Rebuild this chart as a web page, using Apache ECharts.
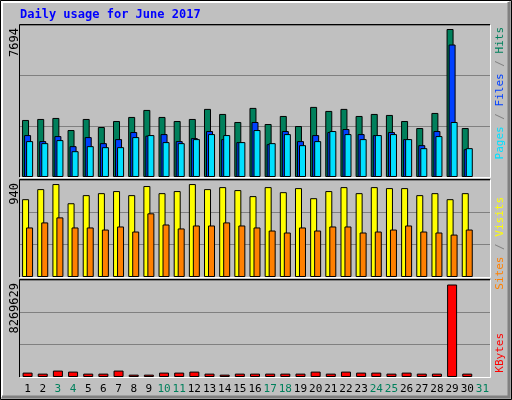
<!DOCTYPE html>
<html><head><meta charset="utf-8">
<script src="https://cdn.jsdelivr.net/npm/echarts@6/dist/echarts.min.js"></script>
<style>html,body{margin:0;padding:0;background:#c0c0c0}#c{width:512px;height:400px}</style>
</head><body><div id="c"></div>
<script>
const days = ['1','2','3','4','5','6','7','8','9','10','11','12','13','14','15','16','17','18','19','20','21','22','23','24','25','26','27','28','29','30','31'];
const weekend = ['3','4','10','11','17','18','24','25','31'];
const hits  = [2965,3017,3070,2441,3017,2598,2912,3122,3487,3122,2912,3017,3540,3278,2860,3592,2755,3173,2650,3644,3435,3540,3173,3278,3226,2912,2545,3330,7694,2545,null];
const files = [2180,1866,2127,1604,2075,1761,1970,2337,2150,2231,1866,2023,2389,1970,1814,2860,1709,2389,1866,2180,2337,2494,2231,2180,2337,1970,1656,2389,6887,1447,null];
const pages = [1866,1761,1918,1342,1604,1552,1552,2075,2180,1814,1761,1970,2231,2180,1814,2441,1761,2231,1656,1866,2389,2231,1970,2180,2231,1970,1500,2127,2860,1500,null];
const visits= [787,889,940,746,828,848,869,828,920,848,869,940,889,909,879,818,909,858,899,797,869,909,848,909,899,899,828,848,787,848,null];
const sites = [501,552,603,501,501,480,511,460,644,531,491,521,521,552,521,501,470,450,501,470,511,511,450,460,480,521,460,450,429,480,null];
const kbytes= [393000,302000,574000,483000,302000,302000,574000,211000,211000,393000,393000,483000,302000,211000,302000,302000,302000,302000,302000,483000,302000,483000,393000,393000,302000,393000,302000,302000,8269629,302000,null];
const labels = {hits:'7694', visits:'940', kbytes:'8269629'};

const F = 'DejaVu Sans Mono';
const gridL = 20, gridW = 470;
const panels = [{top:25,h:152},{top:180,h:97},{top:280,h:97}];
const ch = echarts.init(document.getElementById('c'), null, {renderer:'canvas'});
const bs = (c)=>({color:c,borderColor:'#000',borderWidth:1});
const yA = (i,max)=>({gridIndex:i,min:0,max:max,interval:max/3,axisLine:{show:false},axisTick:{show:false},axisLabel:{show:false},splitLine:{lineStyle:{color:'#808080',width:1}}});
const xA = (i,show)=>({gridIndex:i,type:'category',data:days,axisLine:{show:false},axisTick:{show:false},
  axisLabel:{show:show,fontFamily:F,fontSize:11,margin:7,interval:0,color:(v)=>weekend.includes(v)?'#00805c':'#000'}});
const g = [];
g.push({type:'rect',shape:{x:0.5,y:0.5,width:511,height:399},style:{fill:null,stroke:'#000',lineWidth:1},z:10});
g.push({type:'polyline',shape:{points:[[2,397],[2,2],[509,2]]},style:{stroke:'#fff',lineWidth:2,fill:null},z:10});
g.push({type:'polyline',shape:{points:[[2,397],[509,397],[509,2]]},style:{stroke:'#808080',lineWidth:3,fill:null},z:10});
panels.forEach(p=>{
  g.push({type:'polyline',shape:{points:[[gridL-0.5,p.top+p.h],[gridL-0.5,p.top-0.5],[gridL+gridW,p.top-0.5]]},style:{stroke:'#000',lineWidth:1,fill:null},z:10});
  g.push({type:'polyline',shape:{points:[[gridL,p.top+p.h+0.5],[gridL+gridW+0.5,p.top+p.h+0.5],[gridL+gridW+0.5,p.top]]},style:{stroke:'#fff',lineWidth:1,fill:null},z:10});
});
g.push({type:'text',x:20,y:9,style:{text:'Daily usage for June 2017',fill:'#0000ff',font:'bold 12px '+F},z:11});
[[labels.hits,28],[labels.visits,183],[labels.kbytes,283]].forEach(([t,y])=>{
  g.push({type:'text',x:15,y:y,rotation:Math.PI/2,style:{text:t,fill:'#000',font:'12px '+F,align:'right',verticalAlign:'middle'},z:11});
});
function rot(y,parts){
  const fs='11px '+F;
  g.push({type:'text',x:500,y:y,rotation:Math.PI/2,style:{text:parts.map(p=>'{'+p[1]+'|'+p[0]+'}').join(''),
    rich:{h:{fill:'#00805c',font:fs},f:{fill:'#0040ff',font:fs},p:{fill:'#00e0ff',font:fs},
          s:{fill:'#ff8000',font:fs},v:{fill:'#ffff00',font:fs},k:{fill:'#ff0000',font:fs},g:{fill:'#808080',font:fs}},
    align:'right',verticalAlign:'middle'},z:11});
}
rot(27,[['Pages','p'],[' / ','g'],['Files','f'],[' / ','g'],['Hits','h']]);
rot(197,[['Sites','s'],[' / ','g'],['Visits','v']]);
rot(333,[['KBytes','k']]);

ch.setOption({
  animation:false, backgroundColor:'#c0c0c0',
  grid:panels.map(p=>({left:gridL,width:gridW,top:p.top,height:p.h})),
  xAxis:[xA(0,false),xA(1,false),xA(2,true)],
  yAxis:[yA(0,7902),yA(1,981),yA(2,8672000)],
  series:[
    {type:'bar',xAxisIndex:0,yAxisIndex:0,data:hits,barWidth:7,barGap:'-71%',itemStyle:bs('#00805c')},
    {type:'bar',xAxisIndex:0,yAxisIndex:0,data:files,barWidth:7,barGap:'-71%',itemStyle:bs('#0040ff')},
    {type:'bar',xAxisIndex:0,yAxisIndex:0,data:pages,barWidth:7,barGap:'-71%',itemStyle:bs('#00e0ff')},
    {type:'bar',xAxisIndex:1,yAxisIndex:1,data:visits,barWidth:7,barGap:'-43%',itemStyle:bs('#ffff00')},
    {type:'bar',xAxisIndex:1,yAxisIndex:1,data:sites,barWidth:7,barGap:'-43%',itemStyle:bs('#ff8000')},
    {type:'bar',xAxisIndex:2,yAxisIndex:2,data:kbytes,barWidth:10,itemStyle:bs('#ff0000')}
  ],
  graphic:g
});
</script></body></html>
